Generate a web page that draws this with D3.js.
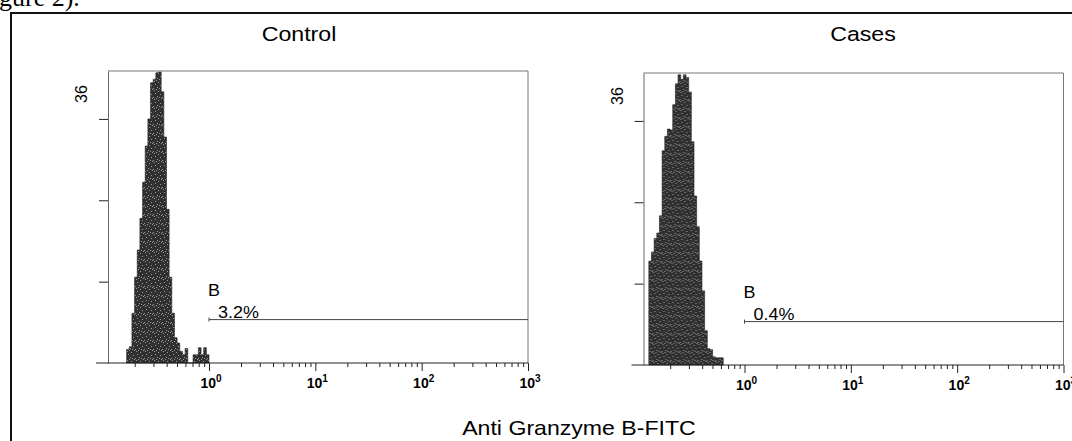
<!DOCTYPE html>
<html>
<head>
<meta charset="utf-8">
<script src="https://cdn.jsdelivr.net/npm/d3@7"></script>
<style>
  body { margin: 0; background: #fff; }
  svg { display: block; }
</style>
</head>
<body>
<script>
// Histogram data: counts per channel, channels are 0.025 log10 units wide
var binWidth = 0.025;
var controlStart = -0.775; // log10 of first channel
var controlCounts = [1.5, 1.8, 5.5, 9.5, 12.5, 16, 20, 24, 27, 31, 31.4, 32.1, 32.2, 30, 25, 17,
  9.5, 5.5, 2.8, 2.2, 1.3, 0.9, 1.6, 0, 0, 0.9, 0.9, 1.7, 0.9, 1.7, 0.9];
var casesStart = -0.9;
var casesCounts = [11.5, 12.5, 14.0, 14.6, 16.5, 23.7, 25.3, 26.1, 26, 28.8, 31.1, 32.1, 31.6, 32.1,
  31.8, 30.2, 24.7, 18.7, 15.3, 11.5, 8.2, 3.8, 1.8, 1.7, 0.9, 0.8, 0.8, 0.8];

var panelTitles = ['Control', 'Cases'];
var gatePercents = ['3.2%', '0.4%'];
var gateName = 'B';
var gateRange = [1, 1000];   // gate from 10^0 to 10^3
var gateLevel = 4.8;         // count level where the gate marker is drawn
var yTicks = [9, 18, 27];
var yTickLabel = '36';
var majorTicks = [1, 10, 100, 1000];
var majorExponents = ['0', '1', '2', '3'];
var xTitle = 'Anti Granzyme B-FITC';

// Sizes
var W = 1072, H = 441;
var plotW = 420, plotH = 292;
var FONT = '"Liberation Sans", Arial, Helvetica, sans-serif';
var panels = [
  { x: 108, y: 71, title: panelTitles[0], titleX: 299, start: controlStart, counts: controlCounts, pct: gatePercents[0] },
  { x: 643.5, y: 73, title: panelTitles[1], titleX: 863, start: casesStart, counts: casesCounts, pct: gatePercents[1] }
];

// the scan is a bit wider than the font, stretch text to match
function stretch(sel, k) {
  sel.each(function () {
    var w = this.getComputedTextLength();
    d3.select(this).attr('textLength', w * k).attr('lengthAdjust', 'spacingAndGlyphs');
  });
  return sel;
}

var svg = d3.select('body').append('svg')
  .attr('width', W)
  .attr('height', H);

// speckled fill like the scanned print
var pat = svg.append('defs').append('pattern')
  .attr('id', 'speckle')
  .attr('width', 9).attr('height', 9)
  .attr('patternUnits', 'userSpaceOnUse');
pat.append('rect').attr('width', 9).attr('height', 9).attr('fill', '#303030');
[[1, 1], [5, 2], [2, 4], [7, 5], [4, 7], [0, 8], [8, 0], [6, 8], [3, 0]].forEach(function (p) {
  pat.append('rect').attr('x', p[0]).attr('y', p[1]).attr('width', 1).attr('height', 1).attr('fill', '#9a9a9a');
});

// caption fragment from page above
svg.append('text')
  .attr('x', -1).attr('y', 6)
  .style('font-family', '"Liberation Serif", serif')
  .style('font-size', '26px')
  .text('gure 2).');

// outer figure frame
svg.append('rect')
  .attr('x', 11).attr('y', 13)
  .attr('width', 1100).attr('height', 500)
  .attr('fill', 'none')
  .attr('stroke', '#111')
  .attr('stroke-width', 2);

var xScale = d3.scaleLog()
  .domain([Math.pow(10, -0.95), 1000])
  .range([0, plotW]);

var yScale = d3.scaleLinear()
  .domain([0, 32.3])
  .range([plotH, 0]);

panels.forEach(function (p) {
  // title
  stretch(svg.append('text')
    .attr('x', p.titleX).attr('y', 41)
    .attr('text-anchor', 'middle')
    .style('font-family', FONT)
    .style('font-size', '20.5px')
    .text(p.title), 1.13);

  var g = svg.append('g').attr('transform', 'translate(' + p.x + ',' + p.y + ')');

  // histogram as step area
  var pts = p.counts.map(function (c, i) { return [p.start + i * binWidth, c]; });
  pts.push([p.start + p.counts.length * binWidth, 0]);
  var area = d3.area()
    .curve(d3.curveStepAfter)
    .x(function (d) { return xScale(Math.pow(10, d[0])); })
    .y0(yScale(0))
    .y1(function (d) { return yScale(d[1]); });
  g.append('path')
    .datum(pts)
    .attr('d', area)
    .attr('fill', 'url(#speckle)')
    .attr('stroke', '#222')
    .attr('stroke-width', 0.6);

  // top and right frame (faint in the print)
  g.append('path')
    .attr('d', 'M0,0H' + plotW + 'V' + plotH)
    .attr('fill', 'none')
    .attr('stroke', '#777')
    .attr('stroke-width', 1);

  // y axis
  var yAxis = d3.axisLeft(yScale).tickValues(yTicks).tickSize(9).tickSizeOuter(0).tickFormat('');
  var ya = g.append('g').call(yAxis);
  ya.select('.domain').attr('stroke', '#666');
  ya.selectAll('.tick line').attr('stroke', '#222');

  g.append('text')
    .attr('transform', 'translate(-21,' + 23 + ') rotate(-90)')
    .attr('text-anchor', 'middle')
    .style('font-family', FONT)
    .style('font-size', '16px')
    .text(yTickLabel);

  // x axis (log)
  g.append('line')
    .attr('x1', -12).attr('x2', plotW)
    .attr('y1', plotH).attr('y2', plotH)
    .attr('stroke', '#222');
  var xAxis = d3.axisBottom(xScale).tickValues(xScale.ticks()).tickSize(4).tickSizeOuter(0).tickFormat('');
  var xa = g.append('g').attr('transform', 'translate(0,' + plotH + ')').call(xAxis);
  xa.select('.domain').remove();
  xa.selectAll('.tick line')
    .attr('stroke', '#222')
    .attr('y2', function (d) { return majorTicks.indexOf(d) >= 0 ? 8 : 4; });

  majorTicks.forEach(function (v, i) {
    var t = g.append('text')
      .attr('x', xScale(v) + 2).attr('y', plotH + 25)
      .attr('text-anchor', 'middle')
      .style('font-family', FONT)
      .style('font-weight', 'bold')
      .style('font-size', '14px');
    t.append('tspan').text('10');
    t.append('tspan').attr('dy', -6).style('font-size', '10px').text(majorExponents[i]);
  });

  // gate marker
  var gx0 = xScale(gateRange[0]), gx1 = xScale(gateRange[1]), gy = yScale(gateLevel);
  g.append('line')
    .attr('x1', gx0).attr('x2', gx1)
    .attr('y1', gy).attr('y2', gy)
    .attr('stroke', '#444');
  g.append('line')
    .attr('x1', gx0).attr('x2', gx0)
    .attr('y1', gy - 2).attr('y2', gy + 2)
    .attr('stroke', '#444');
  stretch(g.append('text')
    .attr('x', gx0 - 1).attr('y', gy - 24)
    .style('font-family', FONT)
    .style('font-size', '16px')
    .text(gateName), 1.12);
  stretch(g.append('text')
    .attr('x', gx0 + 9).attr('y', gy - 2)
    .style('font-family', FONT)
    .style('font-size', '16px')
    .text(p.pct), 1.12);
});

// shared x axis title
stretch(svg.append('text')
  .attr('x', 579).attr('y', 435)
  .attr('text-anchor', 'middle')
  .style('font-family', FONT)
  .style('font-size', '21px')
  .text(xTitle), 1.1);
</script>
</body>
</html>
